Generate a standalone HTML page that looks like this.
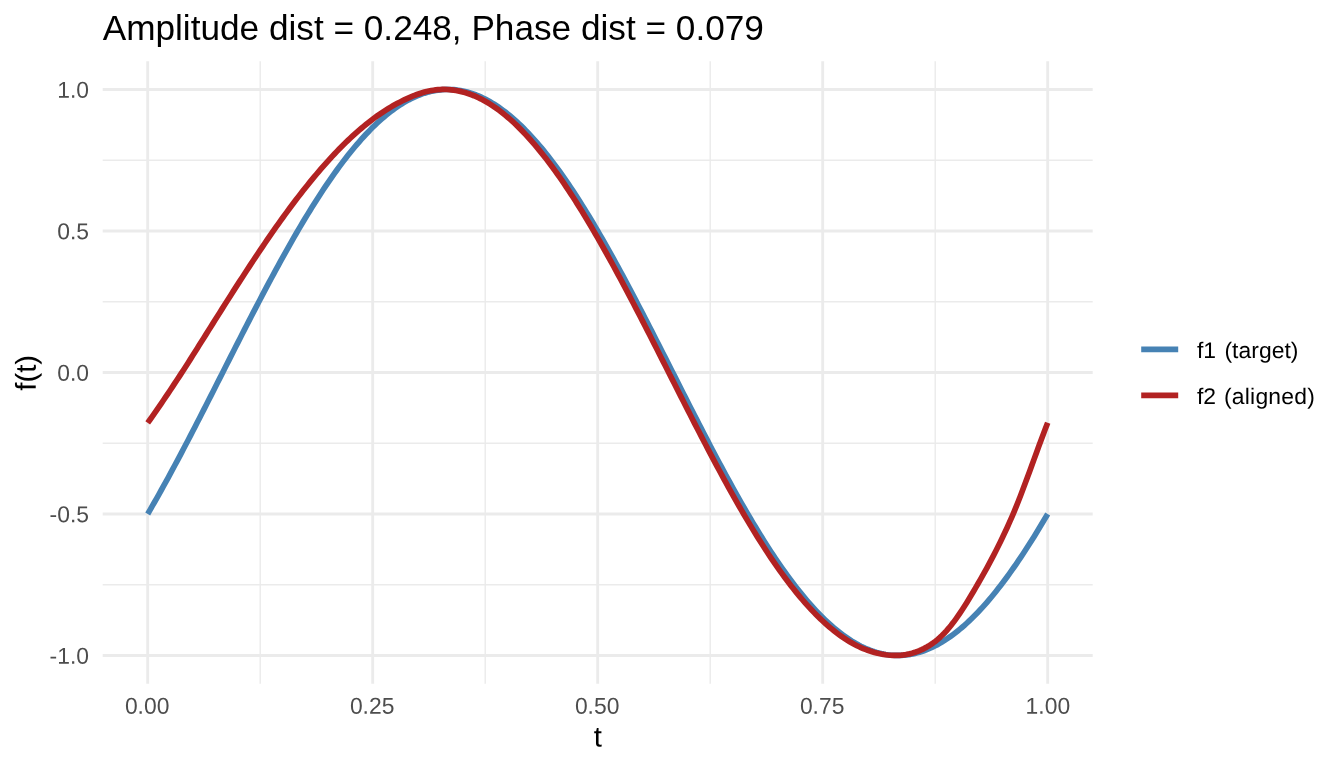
<!DOCTYPE html>
<html><head><meta charset="utf-8"><title>Amplitude / Phase distance</title>
<style>html,body{margin:0;padding:0;background:#fff;}body{width:1344px;height:768px;overflow:hidden;}svg{display:block;}text{font-family:"Liberation Sans",Arial,Helvetica,sans-serif;}</style></head><body>
<svg width="1344" height="768" viewBox="0 0 1344 768">
<rect width="1344" height="768" fill="#ffffff"/>
<g stroke="#EBEBEB" fill="none"><line x1="102.70" x2="1092.70" y1="584.70" y2="584.70" stroke-width="1.42"/><line x1="102.70" x2="1092.70" y1="443.20" y2="443.20" stroke-width="1.42"/><line x1="102.70" x2="1092.70" y1="301.70" y2="301.70" stroke-width="1.42"/><line x1="102.70" x2="1092.70" y1="160.20" y2="160.20" stroke-width="1.42"/><line x1="260.20" x2="260.20" y1="61.15" y2="683.75" stroke-width="1.42"/><line x1="485.20" x2="485.20" y1="61.15" y2="683.75" stroke-width="1.42"/><line x1="710.20" x2="710.20" y1="61.15" y2="683.75" stroke-width="1.42"/><line x1="935.20" x2="935.20" y1="61.15" y2="683.75" stroke-width="1.42"/><line x1="102.70" x2="1092.70" y1="655.45" y2="655.45" stroke-width="2.85"/><line x1="102.70" x2="1092.70" y1="513.95" y2="513.95" stroke-width="2.85"/><line x1="102.70" x2="1092.70" y1="372.45" y2="372.45" stroke-width="2.85"/><line x1="102.70" x2="1092.70" y1="230.95" y2="230.95" stroke-width="2.85"/><line x1="102.70" x2="1092.70" y1="89.45" y2="89.45" stroke-width="2.85"/><line x1="147.70" x2="147.70" y1="61.15" y2="683.75" stroke-width="2.85"/><line x1="372.70" x2="372.70" y1="61.15" y2="683.75" stroke-width="2.85"/><line x1="597.70" x2="597.70" y1="61.15" y2="683.75" stroke-width="2.85"/><line x1="822.70" x2="822.70" y1="61.15" y2="683.75" stroke-width="2.85"/><line x1="1047.70" x2="1047.70" y1="61.15" y2="683.75" stroke-width="2.85"/></g>
<path d="M147.70 513.95 L149.95 510.08 L152.20 506.18 L154.45 502.25 L156.70 498.28 L158.95 494.28 L161.20 490.26 L163.45 486.20 L165.70 482.12 L167.95 478.01 L170.20 473.87 L172.45 469.71 L174.70 465.52 L176.95 461.31 L179.20 457.08 L181.45 452.83 L183.70 448.55 L185.95 444.26 L188.20 439.95 L190.45 435.63 L192.70 431.29 L194.95 426.93 L197.20 422.56 L199.45 418.18 L201.70 413.79 L203.95 409.39 L206.20 404.98 L208.45 400.56 L210.70 396.13 L212.95 391.70 L215.20 387.26 L217.45 382.82 L219.70 378.38 L221.95 373.93 L224.20 369.49 L226.45 365.04 L228.70 360.60 L230.95 356.16 L233.20 351.72 L235.45 347.29 L237.70 342.87 L239.95 338.45 L242.20 334.04 L244.45 329.64 L246.70 325.25 L248.95 320.88 L251.20 316.51 L253.45 312.16 L255.70 307.83 L257.95 303.51 L260.20 299.20 L262.45 294.92 L264.70 290.65 L266.95 286.41 L269.20 282.18 L271.45 277.98 L273.70 273.80 L275.95 269.65 L278.20 265.52 L280.45 261.42 L282.70 257.34 L284.95 253.30 L287.20 249.28 L289.45 245.29 L291.70 241.34 L293.95 237.41 L296.20 233.52 L298.45 229.67 L300.70 225.85 L302.95 222.06 L305.20 218.32 L307.45 214.61 L309.70 210.94 L311.95 207.31 L314.20 203.72 L316.45 200.17 L318.70 196.67 L320.95 193.20 L323.20 189.79 L325.45 186.41 L327.70 183.09 L329.95 179.81 L332.20 176.57 L334.45 173.39 L336.70 170.25 L338.95 167.17 L341.20 164.13 L343.45 161.15 L345.70 158.22 L347.95 155.34 L350.20 152.52 L352.45 149.75 L354.70 147.03 L356.95 144.37 L359.20 141.77 L361.45 139.22 L363.70 136.73 L365.95 134.30 L368.20 131.93 L370.45 129.62 L372.70 127.36 L374.95 125.17 L377.20 123.04 L379.45 120.97 L381.70 118.96 L383.95 117.02 L386.20 115.14 L388.45 113.32 L390.70 111.56 L392.95 109.87 L395.20 108.25 L397.45 106.69 L399.70 105.19 L401.95 103.76 L404.20 102.40 L406.45 101.10 L408.70 99.87 L410.95 98.71 L413.20 97.62 L415.45 96.59 L417.70 95.63 L419.95 94.74 L422.20 93.92 L424.45 93.17 L426.70 92.49 L428.95 91.87 L431.20 91.33 L433.45 90.85 L435.70 90.44 L437.95 90.11 L440.20 89.84 L442.45 89.64 L444.70 89.51 L446.95 89.45 L449.20 89.47 L451.45 89.55 L453.70 89.70 L455.95 89.92 L458.20 90.21 L460.45 90.57 L462.70 91.00 L464.95 91.50 L467.20 92.07 L469.45 92.71 L471.70 93.41 L473.95 94.19 L476.20 95.03 L478.45 95.95 L480.70 96.93 L482.95 97.98 L485.20 99.09 L487.45 100.28 L489.70 101.53 L491.95 102.85 L494.20 104.23 L496.45 105.68 L498.70 107.20 L500.95 108.78 L503.20 110.43 L505.45 112.14 L507.70 113.92 L509.95 115.76 L512.20 117.66 L514.45 119.63 L516.70 121.65 L518.95 123.74 L521.20 125.90 L523.45 128.11 L525.70 130.38 L527.95 132.71 L530.20 135.11 L532.45 137.56 L534.70 140.06 L536.95 142.63 L539.20 145.25 L541.45 147.93 L543.70 150.66 L545.95 153.45 L548.20 156.30 L550.45 159.19 L552.70 162.14 L554.95 165.14 L557.20 168.19 L559.45 171.29 L561.70 174.45 L563.95 177.65 L566.20 180.89 L568.45 184.19 L570.70 187.53 L572.95 190.92 L575.20 194.35 L577.45 197.83 L579.70 201.35 L581.95 204.91 L584.20 208.51 L586.45 212.16 L588.70 215.84 L590.95 219.56 L593.20 223.32 L595.45 227.12 L597.70 230.95 L599.95 234.82 L602.20 238.72 L604.45 242.65 L606.70 246.62 L608.95 250.62 L611.20 254.64 L613.45 258.70 L615.70 262.78 L617.95 266.89 L620.20 271.03 L622.45 275.19 L624.70 279.38 L626.95 283.59 L629.20 287.82 L631.45 292.07 L633.70 296.35 L635.95 300.64 L638.20 304.95 L640.45 309.27 L642.70 313.61 L644.95 317.97 L647.20 322.34 L649.45 326.72 L651.70 331.11 L653.95 335.51 L656.20 339.92 L658.45 344.34 L660.70 348.77 L662.95 353.20 L665.20 357.64 L667.45 362.08 L669.70 366.52 L671.95 370.97 L674.20 375.41 L676.45 379.86 L678.70 384.30 L680.95 388.74 L683.20 393.18 L685.45 397.61 L687.70 402.03 L689.95 406.45 L692.20 410.86 L694.45 415.26 L696.70 419.65 L698.95 424.02 L701.20 428.39 L703.45 432.74 L705.70 437.07 L707.95 441.39 L710.20 445.70 L712.45 449.98 L714.70 454.25 L716.95 458.49 L719.20 462.72 L721.45 466.92 L723.70 471.10 L725.95 475.25 L728.20 479.38 L730.45 483.48 L732.70 487.56 L734.95 491.60 L737.20 495.62 L739.45 499.61 L741.70 503.56 L743.95 507.49 L746.20 511.38 L748.45 515.23 L750.70 519.05 L752.95 522.84 L755.20 526.58 L757.45 530.29 L759.70 533.96 L761.95 537.59 L764.20 541.18 L766.45 544.73 L768.70 548.23 L770.95 551.70 L773.20 555.11 L775.45 558.49 L777.70 561.81 L779.95 565.09 L782.20 568.33 L784.45 571.51 L786.70 574.65 L788.95 577.73 L791.20 580.77 L793.45 583.75 L795.70 586.68 L797.95 589.56 L800.20 592.38 L802.45 595.15 L804.70 597.87 L806.95 600.53 L809.20 603.13 L811.45 605.68 L813.70 608.17 L815.95 610.60 L818.20 612.97 L820.45 615.28 L822.70 617.54 L824.95 619.73 L827.20 621.86 L829.45 623.93 L831.70 625.94 L833.95 627.88 L836.20 629.76 L838.45 631.58 L840.70 633.34 L842.95 635.03 L845.20 636.65 L847.45 638.21 L849.70 639.71 L851.95 641.14 L854.20 642.50 L856.45 643.80 L858.70 645.03 L860.95 646.19 L863.20 647.28 L865.45 648.31 L867.70 649.27 L869.95 650.16 L872.20 650.98 L874.45 651.73 L876.70 652.41 L878.95 653.03 L881.20 653.57 L883.45 654.05 L885.70 654.46 L887.95 654.79 L890.20 655.06 L892.45 655.26 L894.70 655.39 L896.95 655.45 L899.20 655.43 L901.45 655.35 L903.70 655.20 L905.95 654.98 L908.20 654.69 L910.45 654.33 L912.70 653.90 L914.95 653.40 L917.20 652.83 L919.45 652.19 L921.70 651.49 L923.95 650.71 L926.20 649.87 L928.45 648.95 L930.70 647.97 L932.95 646.92 L935.20 645.81 L937.45 644.62 L939.70 643.37 L941.95 642.05 L944.20 640.67 L946.45 639.22 L948.70 637.70 L950.95 636.12 L953.20 634.47 L955.45 632.76 L957.70 630.98 L959.95 629.14 L962.20 627.24 L964.45 625.27 L966.70 623.25 L968.95 621.16 L971.20 619.00 L973.45 616.79 L975.70 614.52 L977.95 612.19 L980.20 609.79 L982.45 607.34 L984.70 604.84 L986.95 602.27 L989.20 599.65 L991.45 596.97 L993.70 594.24 L995.95 591.45 L998.20 588.60 L1000.45 585.71 L1002.70 582.76 L1004.95 579.76 L1007.20 576.71 L1009.45 573.61 L1011.70 570.45 L1013.95 567.25 L1016.20 564.01 L1018.45 560.71 L1020.70 557.37 L1022.95 553.98 L1025.20 550.55 L1027.45 547.07 L1029.70 543.55 L1031.95 539.99 L1034.20 536.39 L1036.45 532.74 L1038.70 529.06 L1040.95 525.34 L1043.20 521.58 L1045.45 517.78 L1047.70 513.95" fill="none" stroke="#4682B4" stroke-width="5.69" stroke-linejoin="round" stroke-linecap="butt"/>
<path d="M147.70 422.92 L149.95 419.75 L152.20 416.56 L154.45 413.35 L156.70 410.11 L158.95 406.84 L161.20 403.56 L163.45 400.25 L165.70 396.92 L167.95 393.57 L170.20 390.21 L172.45 386.83 L174.70 383.43 L176.95 380.01 L179.20 376.58 L181.45 373.14 L183.70 369.68 L185.95 366.19 L188.20 362.67 L190.45 359.12 L192.70 355.57 L194.95 352.00 L197.20 348.42 L199.45 344.84 L201.70 341.26 L203.95 337.69 L206.20 334.12 L208.45 330.54 L210.70 326.96 L212.95 323.39 L215.20 319.81 L217.45 316.24 L219.70 312.67 L221.95 309.11 L224.20 305.55 L226.45 302.00 L228.70 298.46 L230.95 294.92 L233.20 291.40 L235.45 287.89 L237.70 284.40 L239.95 280.91 L242.20 277.43 L244.45 273.97 L246.70 270.52 L248.95 267.08 L251.20 263.66 L253.45 260.25 L255.70 256.86 L257.95 253.49 L260.20 250.13 L262.45 246.80 L264.70 243.48 L266.95 240.19 L269.20 236.91 L271.45 233.66 L273.70 230.44 L275.95 227.23 L278.20 224.05 L280.45 220.90 L282.70 217.77 L284.95 214.67 L287.20 211.59 L289.45 208.54 L291.70 205.52 L293.95 202.52 L296.20 199.55 L298.45 196.62 L300.70 193.71 L302.95 190.83 L305.20 187.98 L307.45 185.16 L309.70 182.38 L311.95 179.63 L314.20 176.91 L316.45 174.22 L318.70 171.56 L320.95 168.95 L323.20 166.36 L325.45 163.81 L327.70 161.30 L329.95 158.82 L332.20 156.38 L334.45 153.98 L336.70 151.62 L338.95 149.29 L341.20 147.01 L343.45 144.76 L345.70 142.56 L347.95 140.39 L350.20 138.26 L352.45 136.17 L354.70 134.12 L356.95 132.11 L359.20 130.15 L361.45 128.22 L363.70 126.33 L365.95 124.48 L368.20 122.67 L370.45 120.91 L372.70 119.18 L374.95 117.51 L377.20 115.88 L379.45 114.31 L381.70 112.78 L383.95 111.30 L386.20 109.87 L388.45 108.48 L390.70 107.13 L392.95 105.82 L395.20 104.56 L397.45 103.33 L399.70 102.15 L401.95 101.00 L404.20 99.90 L406.45 98.84 L408.70 97.82 L410.95 96.84 L413.20 95.91 L415.45 95.03 L417.70 94.21 L419.95 93.44 L422.20 92.74 L424.45 92.09 L426.70 91.52 L428.95 91.01 L431.20 90.57 L433.45 90.20 L435.70 89.91 L437.95 89.69 L440.20 89.54 L442.45 89.46 L444.70 89.46 L446.95 89.52 L449.20 89.66 L451.45 89.86 L453.70 90.14 L455.95 90.49 L458.20 90.90 L460.45 91.38 L462.70 91.94 L464.95 92.56 L467.20 93.25 L469.45 94.01 L471.70 94.84 L473.95 95.74 L476.20 96.70 L478.45 97.74 L480.70 98.84 L482.95 100.01 L485.20 101.25 L487.45 102.55 L489.70 103.92 L491.95 105.36 L494.20 106.86 L496.45 108.43 L498.70 110.06 L500.95 111.76 L503.20 113.52 L505.45 115.35 L507.70 117.24 L509.95 119.19 L512.20 121.21 L514.45 123.28 L516.70 125.42 L518.95 127.62 L521.20 129.88 L523.45 132.20 L525.70 134.58 L527.95 137.02 L530.20 139.51 L532.45 142.07 L534.70 144.68 L536.95 147.34 L539.20 150.07 L541.45 152.84 L543.70 155.67 L545.95 158.56 L548.20 161.49 L550.45 164.48 L552.70 167.52 L554.95 170.61 L557.20 173.76 L559.45 176.95 L561.70 180.18 L563.95 183.47 L566.20 186.80 L568.45 190.18 L570.70 193.60 L572.95 197.07 L575.20 200.58 L577.45 204.13 L579.70 207.73 L581.95 211.36 L584.20 215.04 L586.45 218.75 L588.70 222.50 L590.95 226.29 L593.20 230.11 L595.45 233.97 L597.70 237.87 L599.95 241.79 L602.20 245.75 L604.45 249.74 L606.70 253.76 L608.95 257.81 L611.20 261.89 L613.45 266.00 L615.70 270.13 L617.95 274.29 L620.20 278.47 L622.45 282.67 L624.70 286.90 L626.95 291.15 L629.20 295.42 L631.45 299.70 L633.70 304.01 L635.95 308.33 L638.20 312.67 L640.45 317.02 L642.70 321.38 L644.95 325.76 L647.20 330.15 L649.45 334.55 L651.70 338.96 L653.95 343.38 L656.20 347.81 L658.45 352.24 L660.70 356.67 L662.95 361.11 L665.20 365.56 L667.45 370.00 L669.70 374.45 L671.95 378.89 L674.20 383.33 L676.45 387.78 L678.70 392.21 L680.95 396.64 L683.20 401.07 L685.45 405.49 L687.70 409.90 L689.95 414.30 L692.20 418.69 L694.45 423.08 L696.70 427.45 L698.95 431.81 L701.20 436.15 L703.45 440.48 L705.70 444.79 L707.95 449.09 L710.20 453.37 L712.45 457.62 L714.70 461.86 L716.95 466.08 L719.20 470.27 L721.45 474.43 L723.70 478.58 L725.95 482.69 L728.20 486.78 L730.45 490.84 L732.70 494.87 L734.95 498.86 L737.20 502.83 L739.45 506.76 L741.70 510.66 L743.95 514.53 L746.20 518.35 L748.45 522.15 L750.70 525.90 L752.95 529.61 L755.20 533.29 L757.45 536.92 L759.70 540.51 L761.95 544.06 L764.20 547.56 L766.45 551.02 L768.70 554.44 L770.95 557.81 L773.20 561.13 L775.45 564.40 L777.70 567.63 L779.95 570.80 L782.20 573.93 L784.45 577.01 L786.70 580.03 L788.95 583.00 L791.20 585.93 L793.45 588.80 L795.70 591.61 L797.95 594.37 L800.20 597.08 L802.45 599.73 L804.70 602.32 L806.95 604.86 L809.20 607.34 L811.45 609.77 L813.70 612.14 L815.95 614.44 L818.20 616.69 L820.45 618.88 L822.70 621.01 L824.95 623.08 L827.20 625.09 L829.45 627.03 L831.70 628.92 L833.95 630.74 L836.20 632.50 L838.45 634.20 L840.70 635.83 L842.95 637.40 L845.20 638.91 L847.45 640.35 L849.70 641.73 L851.95 643.03 L854.20 644.27 L856.45 645.43 L858.70 646.53 L860.95 647.56 L863.20 648.53 L865.45 649.43 L867.70 650.27 L869.95 651.05 L872.20 651.76 L874.45 652.42 L876.70 653.01 L878.95 653.55 L881.20 654.02 L883.45 654.42 L885.70 654.76 L887.95 655.04 L890.20 655.25 L892.45 655.38 L894.70 655.45 L896.95 655.43 L899.20 655.34 L901.45 655.17 L903.70 654.91 L905.95 654.57 L908.20 654.15 L910.45 653.63 L912.70 653.03 L914.95 652.34 L917.20 651.54 L919.45 650.65 L921.70 649.66 L923.95 648.57 L926.20 647.37 L928.45 646.06 L930.70 644.63 L932.95 643.09 L935.20 641.42 L937.45 639.62 L939.70 637.65 L941.95 635.54 L944.20 633.26 L946.45 630.83 L948.70 628.24 L950.95 625.50 L953.20 622.61 L955.45 619.58 L957.70 616.42 L959.95 613.14 L962.20 609.74 L964.45 606.24 L966.70 602.65 L968.95 598.98 L971.20 595.25 L973.45 591.47 L975.70 587.66 L977.95 583.79 L980.20 579.88 L982.45 575.91 L984.70 571.89 L986.95 567.80 L989.20 563.65 L991.45 559.43 L993.70 555.14 L995.95 550.77 L998.20 546.30 L1000.45 541.75 L1002.70 537.09 L1004.95 532.33 L1007.20 527.45 L1009.45 522.45 L1011.70 517.31 L1013.95 512.03 L1016.20 506.58 L1018.45 500.97 L1020.70 495.22 L1022.95 489.34 L1025.20 483.36 L1027.45 477.30 L1029.70 471.18 L1031.95 465.03 L1034.20 458.86 L1036.45 452.71 L1038.70 446.60 L1040.95 440.55 L1043.20 434.56 L1045.45 428.59 L1047.70 422.64" fill="none" stroke="#B22222" stroke-width="5.69" stroke-linejoin="round" stroke-linecap="butt"/>
<text x="102.7" y="40.3" font-size="35.2" fill="#000">Amplitude dist = 0.248, Phase dist = 0.079</text>
<text transform="translate(89.00 97.75) rotate(0.03) scale(0.975 0.980)" font-size="23.47" fill="#4D4D4D" text-anchor="end">1.0</text>
<text transform="translate(89.00 239.25) rotate(0.03) scale(0.975 0.980)" font-size="23.47" fill="#4D4D4D" text-anchor="end">0.5</text>
<text transform="translate(89.00 380.75) rotate(0.03) scale(0.975 0.980)" font-size="23.47" fill="#4D4D4D" text-anchor="end">0.0</text>
<text transform="translate(89.00 522.25) rotate(0.03) scale(0.975 0.980)" font-size="23.47" fill="#4D4D4D" text-anchor="end">-0.5</text>
<text transform="translate(89.00 663.75) rotate(0.03) scale(0.975 0.980)" font-size="23.47" fill="#4D4D4D" text-anchor="end">-1.0</text>
<text transform="translate(147.15 713.75) rotate(0.03) scale(0.975 0.980)" font-size="23.47" fill="#4D4D4D" text-anchor="middle">0.00</text>
<text transform="translate(372.15 713.75) rotate(0.03) scale(0.975 0.980)" font-size="23.47" fill="#4D4D4D" text-anchor="middle">0.25</text>
<text transform="translate(597.15 713.75) rotate(0.03) scale(0.975 0.980)" font-size="23.47" fill="#4D4D4D" text-anchor="middle">0.50</text>
<text transform="translate(822.15 713.75) rotate(0.03) scale(0.975 0.980)" font-size="23.47" fill="#4D4D4D" text-anchor="middle">0.75</text>
<text transform="translate(1047.85 713.75) rotate(0.03) scale(0.975 0.980)" font-size="23.47" fill="#4D4D4D" text-anchor="middle">1.00</text>
<text transform="translate(597.70 746.5) rotate(0.03) scale(1 0.98)" font-size="29.33" fill="#000" text-anchor="middle">t</text>
<text transform="translate(35.8 372.85) rotate(-90.03) scale(1 0.98)" font-size="29.33" fill="#000" text-anchor="middle">f(t)</text>
<line x1="1141.2" x2="1178.2" y1="349.3" y2="349.3" stroke="#4682B4" stroke-width="5.69"/>
<line x1="1141.2" x2="1178.2" y1="395.4" y2="395.4" stroke="#B22222" stroke-width="5.69"/>
<text transform="translate(1197 357.90) rotate(0.03) scale(0.975 0.962)" font-size="23.47" fill="#000">f1 <tspan dx="2.10" letter-spacing="0.03">(target)</tspan></text>
<text transform="translate(1197 404.00) rotate(0.03) scale(0.975 0.962)" font-size="23.47" fill="#000">f2 <tspan dx="1.60" letter-spacing="0.23">(aligned)</tspan></text>
</svg></body></html>
